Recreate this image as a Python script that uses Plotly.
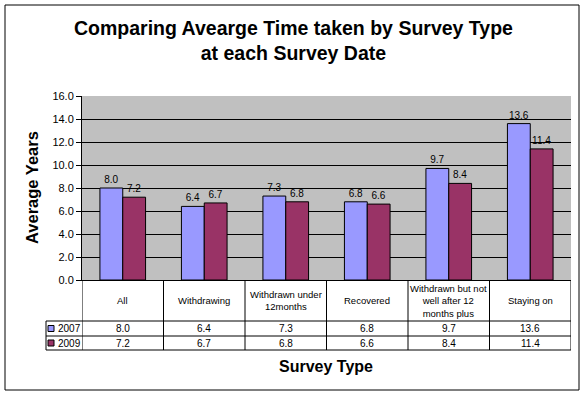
import plotly.graph_objects as go

categories = ["All", "Withdrawing", "Withdrawn under<br>12months", "Recovered",
              "Withdrawn but not<br>well after 12<br>months plus", "Staying on"]
series_names = ["2007", "2009"]
values_2007 = [8.0, 6.4, 7.3, 6.8, 9.7, 13.6]
values_2009 = [7.2, 6.7, 6.8, 6.6, 8.4, 11.4]
colors = ["#9999FF", "#993366"]
y_ticks = [0, 2, 4, 6, 8, 10, 12, 14, 16]

W, H = 585, 396
L, R, T, B = 82, 571, 96, 280

def px(x):
    return (x - L) / (R - L)

def py(y):
    return (B - y) / (B - T)

FONT = "Liberation Sans, Arial, sans-serif"
fig = go.Figure()
idx = list(range(len(categories)))
for name, vals, col in zip(series_names, [values_2007, values_2009], colors):
    fig.add_trace(go.Bar(
        x=idx, y=vals, name=name, marker=dict(color=col, line=dict(color="black", width=1)),
        text=[f"{v:.1f}" for v in vals], textposition="outside",
        textfont=dict(size=10, color="black", family=FONT), cliponaxis=False,
        hoverinfo="skip",
    ))

shapes = []
annotations = []
row_top = py(321)
row1 = py(336)
row2 = py(350)
leg_left = px(46)
# table horizontal lines
for yv in [row_top, row1, row2]:
    shapes.append(dict(type="line", xref="paper", yref="paper", x0=leg_left if yv != row_top else 0,
                       x1=1, y0=yv, y1=yv, line=dict(color="black", width=1)))
shapes.append(dict(type="line", xref="paper", yref="paper", x0=leg_left, x1=0, y0=row_top, y1=row_top,
                   line=dict(color="black", width=1)))
# vertical lines at category boundaries
for i in range(len(categories) + 1):
    shapes.append(dict(type="line", xref="x", yref="paper", x0=i - 0.5, x1=i - 0.5, y0=0, y1=row2,
                       line=dict(color="black", width=1)))
shapes.append(dict(type="line", xref="paper", yref="paper", x0=leg_left, x1=leg_left, y0=row_top, y1=row2,
                   line=dict(color="black", width=1)))
# category labels
for i, c in enumerate(categories):
    annotations.append(dict(x=i, xref="x", y=(0 + row_top) / 2, yref="paper", text=c, showarrow=False,
                            font=dict(size=9.5, color="black", family=FONT), yanchor="middle"))
# values rows
for vals, ymid in [(values_2007, (row_top + row1) / 2), (values_2009, (row1 + row2) / 2)]:
    for i, v in enumerate(vals):
        annotations.append(dict(x=i, xref="x", y=ymid, yref="paper", text=f"{v:.1f}", showarrow=False,
                                font=dict(size=10, color="black", family=FONT), yanchor="middle"))
# legend keys
for name, col, (ya, yb) in zip(series_names, colors, [(321, 336), (336, 350)]):
    yc = (ya + yb) / 2
    shapes.append(dict(type="rect", xref="paper", yref="paper", x0=px(48), x1=px(54),
                       y0=py(yc + 3), y1=py(yc - 3), fillcolor=col, line=dict(color="black", width=1)))
    annotations.append(dict(x=px(56), xref="paper", y=py(yc), yref="paper", text=name, showarrow=False,
                            xanchor="left", yanchor="middle", font=dict(size=10, color="black", family=FONT)))
# outer border
shapes.append(dict(type="rect", xref="paper", yref="paper", x0=px(5), x1=px(579), y0=py(390), y1=py(5),
                   line=dict(color="black", width=1), fillcolor="rgba(0,0,0,0)"))
# titles
annotations.append(dict(x=px(293), xref="paper", y=py(41), yref="paper", showarrow=False,
                        text="Comparing Avearge Time taken by Survey Type<br>at each Survey Date",
                        font=dict(size=19.5, color="black", family=FONT, weight="bold"), yanchor="middle"))
annotations.append(dict(x=px(326), xref="paper", y=py(366), yref="paper", showarrow=False,
                        text="Survey Type", font=dict(size=16, color="black", family=FONT, weight="bold"),
                        yanchor="middle"))
annotations.append(dict(x=px(32), xref="paper", y=py(188), yref="paper", showarrow=False, textangle=-90,
                        text="Average Years", font=dict(size=16.5, color="black", family=FONT, weight="bold"),
                        xanchor="center", yanchor="middle"))

fig.update_layout(
    width=W, height=H, margin=dict(l=L, r=W - R, t=T, b=H - B),
    paper_bgcolor="white", plot_bgcolor="#C0C0C0",
    barmode="group", bargap=0.44, bargroupgap=0, showlegend=False,
    shapes=shapes, annotations=annotations,
    font=dict(family=FONT, color="black"),
)
fig.update_xaxes(range=[-0.5, len(categories) - 0.5], showticklabels=False, ticks="", showgrid=False,
                 showline=True, linecolor="black", linewidth=1, zeroline=False)
fig.update_yaxes(range=[0, 16], tickvals=y_ticks, ticktext=[f"{v:.1f}" for v in y_ticks],
                 ticks="outside", ticklen=5, tickcolor="black", showgrid=True, gridcolor="black",
                 gridwidth=1, showline=True, linecolor="black", linewidth=1, zeroline=False,
                 tickfont=dict(size=11, color="black", family=FONT))
fig.write_html("out.html", config={"displayModeBar": False},
               post_script="document.body.style.margin='0';document.body.style.overflow='hidden';")
